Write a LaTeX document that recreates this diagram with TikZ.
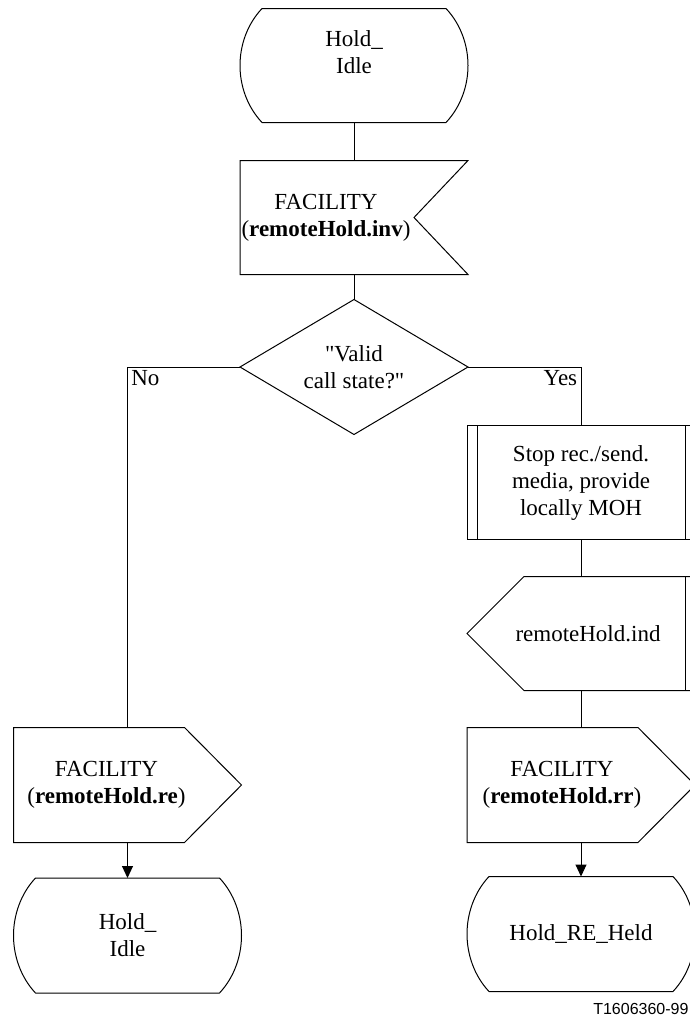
\documentclass[tikz,border=0pt]{standalone}
\usepackage{fontspec}
\setmainfont{Liberation Serif}
\newfontfamily\tagfont{Liberation Sans}
\usetikzlibrary{calc,arrows.meta}

\tikzset{
	every node/.style={font=\fontsize{23}{27}\selectfont},
	box/.style={rectangle, minimum width=227pt, minimum height=113pt, inner sep=0pt, align=center},
	arr/.style={-{Triangle[length=12pt,width=11pt]}},
}

% SDL symbols, drawn round a box node
\newcommand{\drawstate}[1]{%
	\draw ($(#1.north west)+(22,0)$) -- ($(#1.north east)+(-22,0)$)
		.. controls ($(#1.north east)+(-7,16)$) and ($(#1.east)+(0,-20)$) .. (#1.east)
		.. controls ($(#1.east)+(0,20)$) and ($(#1.south east)+(-7,-16)$) .. ($(#1.south east)+(-22,0)$)
		-- ($(#1.south west)+(22,0)$)
		.. controls ($(#1.south west)+(7,-16)$) and ($(#1.west)+(0,20)$) .. (#1.west)
		.. controls ($(#1.west)+(0,-20)$) and ($(#1.north west)+(7,16)$) .. ($(#1.north west)+(22,0)$)
		-- cycle;}
\newcommand{\drawinput}[1]{%
	\draw (#1.north west) -- (#1.north east) -- ($(#1.east)+(-54,0)$) -- (#1.south east) -- (#1.south west) -- cycle;}
\newcommand{\drawoutput}[1]{%
	\draw (#1.north west) -- ($(#1.north east)+(-57,0)$) -- (#1.east) -- ($(#1.south east)+(-57,0)$) -- (#1.south west) -- cycle;}
\newcommand{\drawind}[1]{%
	\draw (#1.west) -- ($(#1.north west)+(57,0)$) -- (#1.north east) -- (#1.south east) -- ($(#1.south west)+(57,0)$) -- cycle;
	\draw ($(#1.north east)+(-10,0)$) -- ($(#1.south east)+(-10,0)$);}
\newcommand{\drawproc}[1]{%
	\draw (#1.north west) rectangle (#1.south east);
	\draw ($(#1.north west)+(10,0)$) -- ($(#1.south west)+(10,0)$);
	\draw ($(#1.north east)+(-10,0)$) -- ($(#1.south east)+(-10,0)$);}
\newcommand{\drawdecision}[1]{%
	\draw (#1.north) -- (#1.east) -- (#1.south) -- (#1.west) -- cycle;}

\begin{document}
\begin{tikzpicture}[x=1pt, y=-1pt, line width=1pt]
	\useasboundingbox (0,0) rectangle (690,1017);
	%\draw[help lines, step=50] (0,0) grid (690,1017);

	% main column
	\node (hold0) [box, label={[yshift=13pt, align=center]center:{Hold\_\\Idle}}] at (354, 65.5) {};
	\node (facinv) [box, label={[xshift=-28pt, align=center]center:{FACILITY\\(\textbf{remoteHold.inv})}}] at (354, 217.5) {};
	\node (valid) [box, minimum height=134pt] at (354, 367) {\textquotedbl Valid\\call state?\textquotedbl};

	% no branch
	\node (facre) [box, minimum height=114pt, label={[xshift=-21pt, align=center]center:{FACILITY\\(\textbf{remoteHold.re})}}] at (127.5, 785) {};
	\node (hold1) [box, minimum height=114pt] at (127.5, 935.5) {Hold\_\\Idle};

	% yes branch
	\node (stop) [box] at (581, 482.5) {Stop rec./send.\\media, provide\\locally MOH};
	\node (ind) [box, label={[xshift=7pt]center:remoteHold.ind}] at (581, 633.5) {};
	\node (facrr) [box, minimum height=114pt, label={[xshift=-19pt, align=center]center:{FACILITY\\(\textbf{remoteHold.rr})}}] at (581, 785) {};
	\node (held) [box, minimum height=114pt] at (581, 934) {Hold\_RE\_Held};

	\drawstate{hold0}
	\drawinput{facinv}
	\drawdecision{valid}
	\drawoutput{facre}
	\drawstate{hold1}
	\drawproc{stop}
	\drawind{ind}
	\drawoutput{facrr}
	\drawstate{held}

	\node (no) [below right] at (facre.north |- valid.west) {No};
	\node (yes) [below left] at (stop.north |- valid.east) {Yes};

	\draw (hold0.south) -- (facinv.north);
	\draw (facinv.south) -- (valid.north);
	\draw (valid.west) -| (facre.north);
	\draw (valid.east) -| (stop.north);
	\draw (stop.south) -- (ind.north);
	\draw (ind.south) -- (facrr.north);
	\draw [arr] (facre.south) -- (hold1.north);
	\draw [arr] (facrr.south) -- (held.north);

	\node (tag) [anchor=south east, inner sep=1pt, font=\tagfont\fontsize{16}{16}\selectfont] at (690, 1016) {T1606360-99};
\end{tikzpicture}
\end{document}
